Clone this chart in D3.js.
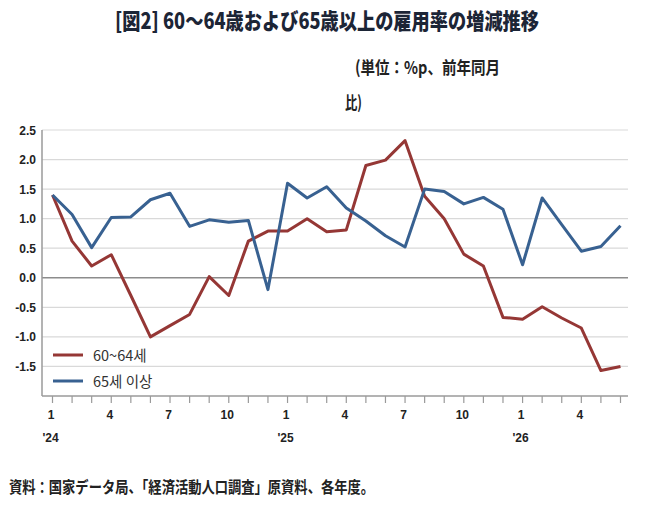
<!DOCTYPE html>
<html><head><meta charset="utf-8">
<script src="https://cdn.jsdelivr.net/npm/d3@7"></script>
<style>
html,body{margin:0;padding:0;background:#fff;}
svg{display:block;}
</style></head>
<body>
<svg id="c" width="654" height="506"></svg>
<script>
const months = ["1","2","3","4","5","6","7","8","9","10","11","12","1","2","3","4","5","6","7","8","9","10","11","12","1","2","3","4","5","6"];
const tickLabelIdx = [0,3,6,9,12,15,18,21,24,27];
const yearLabels = [{i:0,t:"'24"},{i:12,t:"'25"},{i:24,t:"'26"}];
const series60 = [1.4,0.62,0.2,0.39,-0.3,-1.0,-0.81,-0.62,0.02,-0.3,0.62,0.79,0.79,1.0,0.78,0.81,1.9,1.99,2.32,1.38,1.0,0.4,0.2,-0.67,-0.7,-0.49,-0.68,-0.85,-1.57,-1.5];
const series65 = [1.4,1.07,0.51,1.02,1.03,1.32,1.43,0.87,0.98,0.94,0.97,-0.2,1.6,1.35,1.54,1.18,0.96,0.71,0.52,1.5,1.46,1.25,1.36,1.16,0.22,1.35,0.9,0.45,0.53,0.88];
const yTicks = [2.5,2.0,1.5,1.0,0.5,0.0,-0.5,-1.0,-1.5];
const seriesNames = ["60~64세","65세 이상"];
const colors = ["#953735","#386191"];

const svg = d3.select("#c");
const x = d3.scaleLinear().domain([0,29]).range([52.5,620.5]);
const y = d3.scaleLinear().domain([-2.0,2.5]).range([396,130]);
const left = 42, right = 628;
const font = "'Noto Sans CJK KR','Noto Sans CJK JP',sans-serif";

// title
svg.append("text").attr("x",327).attr("y",29).attr("text-anchor","middle")
  .attr("font-family","'Noto Sans CJK JP',sans-serif").attr("font-weight",900)
  .attr("font-size",22).attr("fill","#1c2536").attr("textLength",424).attr("lengthAdjust","spacingAndGlyphs")
  .text("[図2] 60～64歳および65歳以上の雇用率の増減推移");
svg.append("text").attr("x",355).attr("y",74)
  .attr("font-family","'Noto Sans CJK JP',sans-serif").attr("font-weight","bold")
  .attr("font-size",17.5).attr("fill","#222").attr("textLength",145).attr("lengthAdjust","spacingAndGlyphs")
  .text("(単位：%p、前年同月");
svg.append("text").attr("x",345).attr("y",109)
  .attr("font-family","'Noto Sans CJK JP',sans-serif").attr("font-weight","bold")
  .attr("font-size",17.5).attr("fill","#222").attr("textLength",17).attr("lengthAdjust","spacingAndGlyphs")
  .text("比)");

// gridlines
svg.append("g").selectAll("line").data(yTicks).join("line")
  .attr("x1",left).attr("x2",right).attr("y1",d=>y(d)).attr("y2",d=>y(d))
  .attr("stroke",d=>d===0?"#8c8c8c":"#d9d9d9").attr("stroke-width",d=>d===0?1.5:1.2);

// y labels
svg.append("g").selectAll("text").data(yTicks).join("text")
  .attr("x",36).attr("y",d=>y(d)+4.5).attr("text-anchor","end")
  .attr("font-family","'Liberation Sans',Arial,sans-serif").attr("font-weight","bold")
  .attr("font-size",12).attr("fill","#222").text(d=>d.toFixed(1));

// axes lines
svg.append("line").attr("x1",left).attr("x2",left).attr("y1",130).attr("y2",396).attr("stroke","#9a9a9a").attr("stroke-width",1.5);
svg.append("line").attr("x1",left).attr("x2",right).attr("y1",396).attr("y2",396).attr("stroke","#9a9a9a").attr("stroke-width",1.5);
svg.append("g").selectAll("line").data(months.map((m,i)=>i)).join("line")
  .attr("x1",d=>x(d)).attr("x2",d=>x(d)).attr("y1",396).attr("y2",403)
  .attr("stroke","#9a9a9a").attr("stroke-width",1.2);

// x labels
svg.append("g").selectAll("text").data(tickLabelIdx).join("text")
  .attr("x",d=>x(d)-1.5).attr("y",419).attr("text-anchor","middle")
  .attr("font-family","'Liberation Sans',Arial,sans-serif").attr("font-weight","bold")
  .attr("font-size",12).attr("fill","#222").text(d=>months[d]);
svg.append("g").selectAll("text").data(yearLabels).join("text")
  .attr("x",d=>x(d.i)-2).attr("y",442).attr("text-anchor","middle")
  .attr("font-family","'Liberation Sans',Arial,sans-serif").attr("font-weight","bold")
  .attr("font-size",12).attr("fill","#222").text(d=>d.t);

// lines
const line = d3.line().x((d,i)=>x(i)).y(d=>y(d));
[series60,series65].forEach((s,k)=>{
  svg.append("path").datum(s).attr("d",line).attr("fill","none")
    .attr("stroke",colors[k]).attr("stroke-width",3).attr("stroke-linejoin","round");
});

// legend
seriesNames.forEach((n,k)=>{
  const ly = 355 + k*26;
  svg.append("line").attr("x1",53).attr("x2",83).attr("y1",ly).attr("y2",ly)
    .attr("stroke",colors[k]).attr("stroke-width",3);
  svg.append("text").attr("x",93).attr("y",ly+5.5).attr("font-family",font)
    .attr("font-size",14.5).attr("fill","#333").text(n);
});

// footer
svg.append("text").attr("x",9).attr("y",493)
  .attr("font-family","'Noto Sans CJK JP',sans-serif").attr("font-weight","bold")
  .attr("font-size",16).attr("fill","#222").attr("textLength",365).attr("lengthAdjust","spacingAndGlyphs")
  .text("資料：国家データ局、「経済活動人口調査」原資料、各年度。");
</script>
</body></html>
